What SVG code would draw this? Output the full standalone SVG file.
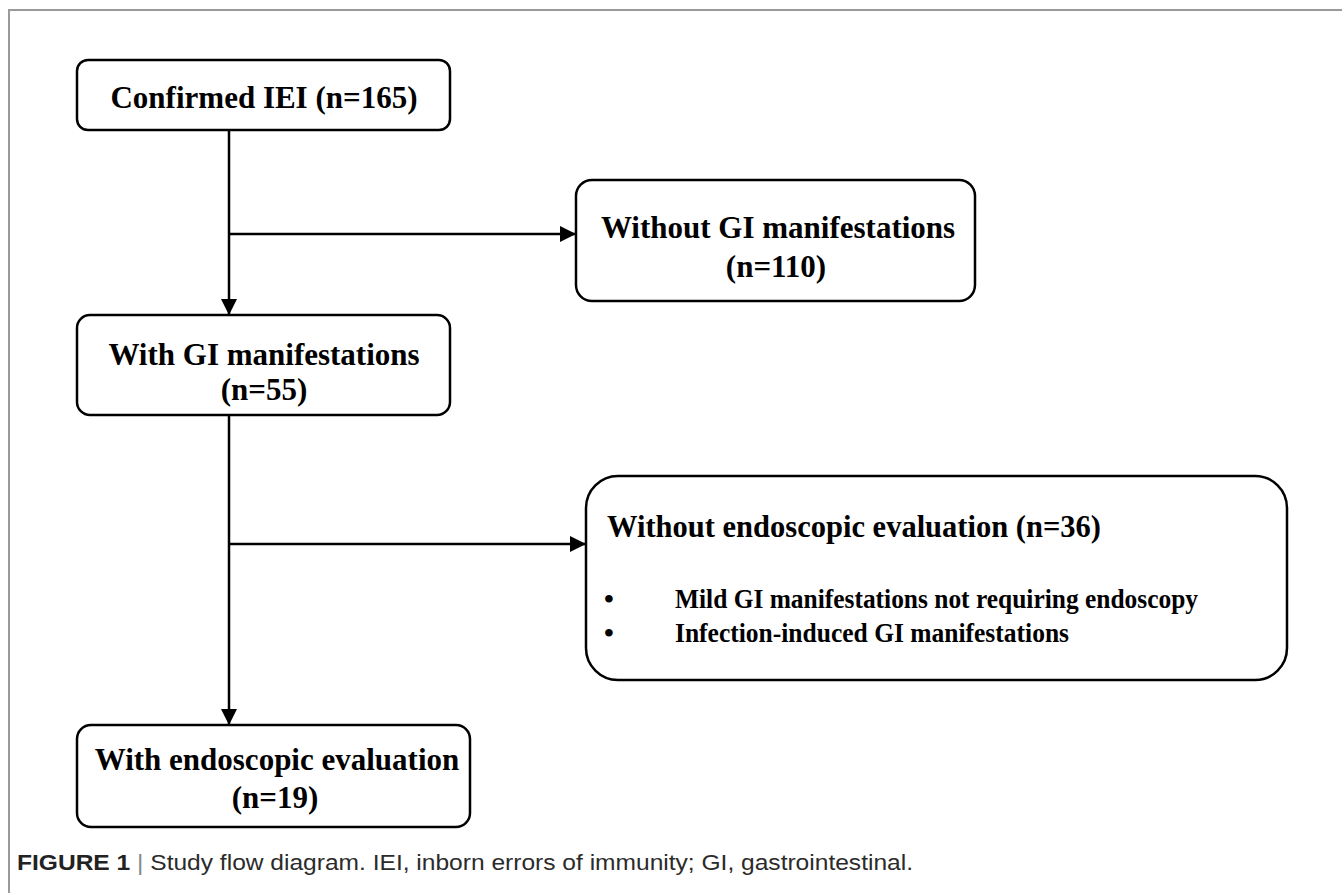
<svg xmlns="http://www.w3.org/2000/svg" width="1342" height="893" viewBox="0 0 1342 893">
  <style>
    .box { fill: #ffffff; stroke: #000000; stroke-width: 2.5; }
    .lbl { font-family: "Liberation Serif", "Times New Roman", serif; font-weight: bold; fill: #000000; }
    .big { font-size: 31px; }
    .small { font-size: 28px; }
    .conn { stroke: #000000; stroke-width: 2.5; fill: none; }
    .frame { stroke: #9a9a9a; stroke-width: 2; fill: none; }
    .cap { font-family: "Liberation Sans", Arial, sans-serif; font-size: 22px; fill: #2b2b2b; }
  </style>
  <defs>
    <marker id="arrow" viewBox="0 0 16 16" refX="16" refY="8" markerWidth="16" markerHeight="16" markerUnits="userSpaceOnUse" orient="auto">
      <path d="M0,0 L16,8 L0,16 Z" fill="#000000"/>
    </marker>
  </defs>
  <rect x="0" y="0" width="1342" height="893" fill="#ffffff"/>
  <path class="frame" d="M9,893 L9,10 L1342,10"/>

  <g id="connectors">
    <line class="conn" x1="229" y1="130" x2="229" y2="315" marker-end="url(#arrow)"/>
    <line class="conn" x1="229" y1="234" x2="576" y2="234" marker-end="url(#arrow)"/>
    <line class="conn" x1="229" y1="415" x2="229" y2="725" marker-end="url(#arrow)"/>
    <line class="conn" x1="229" y1="544" x2="586" y2="544" marker-end="url(#arrow)"/>
  </g>

  <g id="node-confirmed">
    <rect class="box" x="77" y="60" width="373" height="70" rx="11"/>
    <text class="lbl big" x="264" y="108" text-anchor="middle">Confirmed IEI (n=165)</text>
  </g>

  <g id="node-without-gi">
    <rect class="box" x="576" y="180" width="399" height="121" rx="16"/>
    <text class="lbl big" x="778" y="238" text-anchor="middle">Without GI manifestations</text>
    <text class="lbl big" x="776" y="277" text-anchor="middle">(n=110)</text>
  </g>

  <g id="node-with-gi">
    <rect class="box" x="77" y="315" width="373" height="100" rx="13"/>
    <text class="lbl big" x="264" y="365" text-anchor="middle">With GI manifestations</text>
    <text class="lbl big" x="264" y="400" text-anchor="middle">(n=55)</text>
  </g>

  <g id="node-without-endo">
    <rect class="box" x="586" y="476" width="701" height="204" rx="32"/>
    <text class="lbl" x="607" y="537" font-size="32" textLength="494" lengthAdjust="spacingAndGlyphs">Without endoscopic evaluation (n=36)</text>
    <text class="lbl small" x="604" y="608">•</text>
    <text class="lbl small" x="675" y="608" textLength="523" lengthAdjust="spacingAndGlyphs">Mild GI manifestations not requiring endoscopy</text>
    <text class="lbl small" x="604" y="642">•</text>
    <text class="lbl small" x="675" y="642" textLength="394" lengthAdjust="spacingAndGlyphs">Infection-induced GI manifestations</text>
  </g>

  <g id="node-with-endo">
    <rect class="box" x="77" y="725" width="393" height="102" rx="14"/>
    <text class="lbl big" x="277" y="770" text-anchor="middle">With endoscopic evaluation</text>
    <text class="lbl big" x="275" y="808" text-anchor="middle">(n=19)</text>
  </g>

  <g id="caption">
    <text class="cap" x="17" y="870" textLength="896" lengthAdjust="spacingAndGlyphs"><tspan font-weight="bold" fill="#222222">FIGURE 1</tspan><tspan fill="#888888"> | </tspan><tspan>Study flow diagram. IEI, inborn errors of immunity; GI, gastrointestinal.</tspan></text>
  </g>
</svg>
